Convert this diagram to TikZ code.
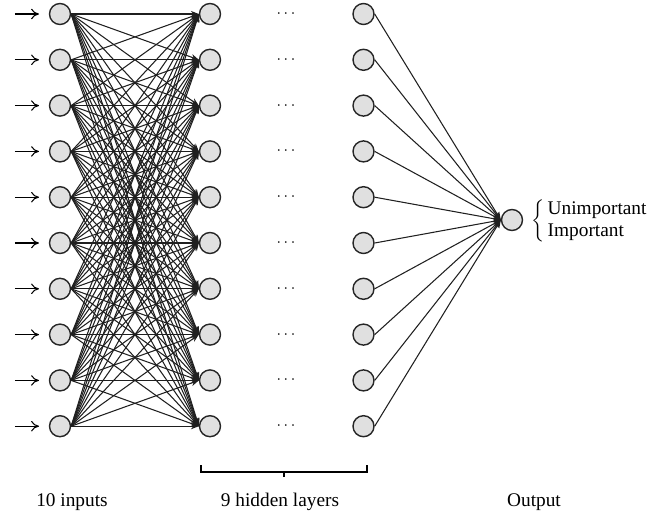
\documentclass[tikz,border=0pt]{standalone}
\usepackage{fontspec}
\setmainfont{Liberation Serif}
\usetikzlibrary{arrows.meta}

\begin{document}
\begin{tikzpicture}[x=0.02cm, y=-0.02cm, >={Stealth[length=4.5pt,width=3.5pt]},
    every node/.style={font=\fontsize{11}{13}\selectfont},
    neuron/.style={circle, draw=black!85, line width=0.8pt, fill=black!12, minimum size=0.42cm, inner sep=0pt},
    link/.style={->, line width=0.6pt, black!88}]

    \useasboundingbox (0,0) rectangle (664,515);

    % layers (one row per input)
    \foreach \k in {1,...,10} {
      \pgfmathsetmacro{\yy}{14+45.8*(\k-1)}
      \node[neuron] (in-\k) at (60,\yy) {};
      \node[neuron] (h1-\k) at (210,\yy) {};
      \node[font=\small] (dots-\k) at (286,\yy) {$\cdots$};
      \node[neuron] (h9-\k) at (363.5,\yy) {};
      \coordinate (src-\k) at (15,\yy);
      \coordinate (tip-\k) at (39,\yy);
      \draw[-{To[length=4.5pt,width=6pt]}, line width=0.6pt] (src-\k) -- (tip-\k);
    }
    \node[neuron] (out) at (512,220) {};

    % full connections input -> first hidden layer
    \foreach \i in {1,...,10}
      \foreach \j in {1,...,10}
        \draw[link] (in-\i.east) -- (h1-\j.west);

    % last hidden layer -> output
    \foreach \j in {1,...,10}
      \draw[link] (h9-\j.east) -- (out.west);

    % classes
    \node[anchor=west, inner sep=0pt] (cls) at (531,221)
      {$\left\{\,\begin{tabular}{@{}l@{}}Unimportant\\Important\end{tabular}\right.$};

    % brace under the hidden layers
    \coordinate (br-l) at (201,465);
    \coordinate (br-r) at (367,465);
    \coordinate (br-m) at (284,472);
    \draw[line width=0.7pt] (br-l) -- ++(0,7) -| (br-r);
    \draw[line width=1pt] (br-m) -- ++(0,5);

    % captions
    \node (lab-in) at (72,502) {10 inputs};
    \node (lab-hid) at (280,502) {9 hidden layers};
    \node (lab-out) at (534,502) {Output};

\end{tikzpicture}
\end{document}
